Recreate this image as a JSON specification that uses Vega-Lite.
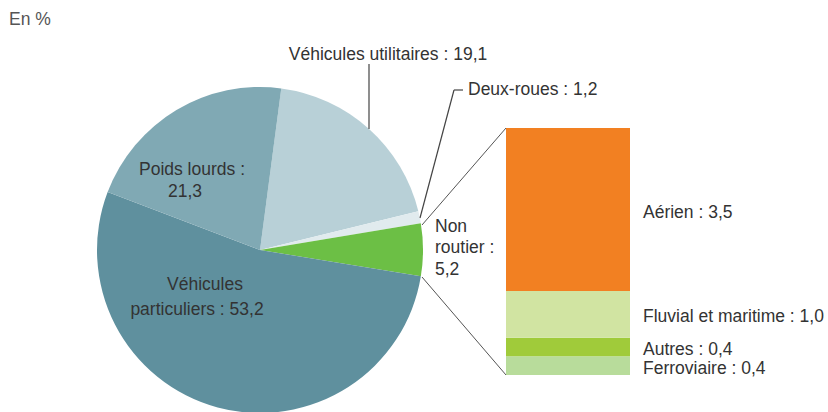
{
  "$schema": "https://vega.github.io/schema/vega-lite/v6.json",
  "width": 828,
  "height": 412,
  "autosize": {"type": "none"},
  "padding": 0,
  "background": "white",
  "config": {
    "view": {"stroke": null},
    "text": {"font": "Liberation Sans", "fontSize": 17.5, "color": "#333333"}
  },
  "datasets": {
    "ensemble": [
      {"categorie": "Véhicules utilitaires", "part": 19.1, "rang": 1},
      {"categorie": "Deux-roues", "part": 1.2, "rang": 2},
      {"categorie": "Non routier", "part": 5.2, "rang": 3},
      {"categorie": "Véhicules particuliers", "part": 53.2, "rang": 4},
      {"categorie": "Poids lourds", "part": 21.3, "rang": 5}
    ],
    "nonroutier": [
      {"groupe": "Non routier", "mode": "Ferroviaire", "part": 0.4, "rang": 1, "etiquette": "Ferroviaire : 0,4"},
      {"groupe": "Non routier", "mode": "Autres", "part": 0.4, "rang": 2, "etiquette": "Autres : 0,4"},
      {"groupe": "Non routier", "mode": "Fluvial et maritime", "part": 1.0, "rang": 3, "etiquette": "Fluvial et maritime : 1,0"},
      {"groupe": "Non routier", "mode": "Aérien", "part": 3.5, "rang": 4, "etiquette": "Aérien : 3,5"}
    ]
  },
  "data": {"values": [{}]},
  "layer": [
    {
      "data": {"name": "ensemble"},
      "mark": {"type": "arc", "radius": 163, "x": 260, "y": 250, "strokeWidth": 0},
      "encoding": {
        "theta": {"field": "part", "type": "quantitative", "stack": true, "scale": {"range": [0.1309, 6.4141]}},
        "order": {"field": "rang", "type": "quantitative"},
        "color": {
          "field": "categorie", "type": "nominal", "legend": null,
          "scale": {
            "domain": ["Véhicules utilitaires", "Deux-roues", "Non routier", "Véhicules particuliers", "Poids lourds"],
            "range": ["#b8d0d7", "#e1ebee", "#6cbf45", "#5f909e", "#80a9b4"]
          }
        }
      }
    },
    {
      "data": {"name": "nonroutier"},
      "mark": {"type": "bar"},
      "encoding": {
        "x": {"field": "groupe", "type": "nominal", "axis": null, "scale": {"range": [506, 630], "paddingInner": 0, "paddingOuter": 0}},
        "y": {"field": "part", "type": "quantitative", "stack": "zero", "axis": null, "scale": {"domain": [0, 5.3], "range": [375, 128], "nice": false, "zero": false}},
        "order": {"field": "rang", "type": "quantitative"},
        "color": {
          "field": "mode", "type": "nominal", "legend": null,
          "scale": {
            "domain": ["Ferroviaire", "Autres", "Fluvial et maritime", "Aérien"],
            "range": ["#b8dc9b", "#a0cb3a", "#d1e4a2", "#f28022"]
          }
        }
      }
    },
    {
      "data": {"name": "nonroutier"},
      "mark": {"type": "text", "align": "left", "baseline": "middle", "dx": 13, "dy": 3},
      "encoding": {
        "x": {"field": "groupe", "type": "nominal", "bandPosition": 1},
        "y": {"field": "part", "type": "quantitative", "stack": "zero", "bandPosition": 0.5},
        "order": {"field": "rang", "type": "quantitative"},
        "text": {"field": "etiquette"}
      }
    },
    {"mark": {"type": "rule", "color": "#444444", "strokeWidth": 1.2}, "encoding": {"x": {"value": 369}, "y": {"value": 64}, "x2": {"value": 369}, "y2": {"value": 129}}},
    {"mark": {"type": "rule", "color": "#444444", "strokeWidth": 1.2}, "encoding": {"x": {"value": 454}, "y": {"value": 90}, "x2": {"value": 463}, "y2": {"value": 90}}},
    {"mark": {"type": "rule", "color": "#444444", "strokeWidth": 1.2}, "encoding": {"x": {"value": 454}, "y": {"value": 90}, "x2": {"value": 420}, "y2": {"value": 218}}},
    {"mark": {"type": "rule", "color": "#555555", "strokeWidth": 1}, "encoding": {"x": {"value": 422}, "y": {"value": 225}, "x2": {"value": 506}, "y2": {"value": 128}}},
    {"mark": {"type": "rule", "color": "#555555", "strokeWidth": 1}, "encoding": {"x": {"value": 422}, "y": {"value": 277}, "x2": {"value": 506}, "y2": {"value": 375}}},
    {"mark": {"type": "text", "text": "En %", "x": 9, "y": 20, "align": "left", "baseline": "middle", "color": "#555555"}, "encoding": {}},
    {"mark": {"type": "text", "text": "Véhicules utilitaires : 19,1", "x": 388, "y": 55, "align": "center", "baseline": "middle"}, "encoding": {}},
    {"mark": {"type": "text", "text": "Deux-roues : 1,2", "x": 468, "y": 90, "align": "left", "baseline": "middle"}, "encoding": {}},
    {"mark": {"type": "text", "text": "Poids lourds :", "x": 192, "y": 170, "align": "center", "baseline": "middle"}, "encoding": {}},
    {"mark": {"type": "text", "text": "21,3", "x": 185, "y": 192, "align": "center", "baseline": "middle"}, "encoding": {}},
    {"mark": {"type": "text", "text": "Véhicules", "x": 205, "y": 285, "align": "center", "baseline": "middle"}, "encoding": {}},
    {"mark": {"type": "text", "text": "particuliers : 53,2", "x": 197, "y": 310, "align": "center", "baseline": "middle"}, "encoding": {}},
    {"mark": {"type": "text", "text": "Non", "x": 435, "y": 227, "align": "left", "baseline": "middle"}, "encoding": {}},
    {"mark": {"type": "text", "text": "routier :", "x": 435, "y": 248, "align": "left", "baseline": "middle"}, "encoding": {}},
    {"mark": {"type": "text", "text": "5,2", "x": 435, "y": 270, "align": "left", "baseline": "middle"}, "encoding": {}}
  ],
  "resolve": {"scale": {"color": "independent"}}
}
